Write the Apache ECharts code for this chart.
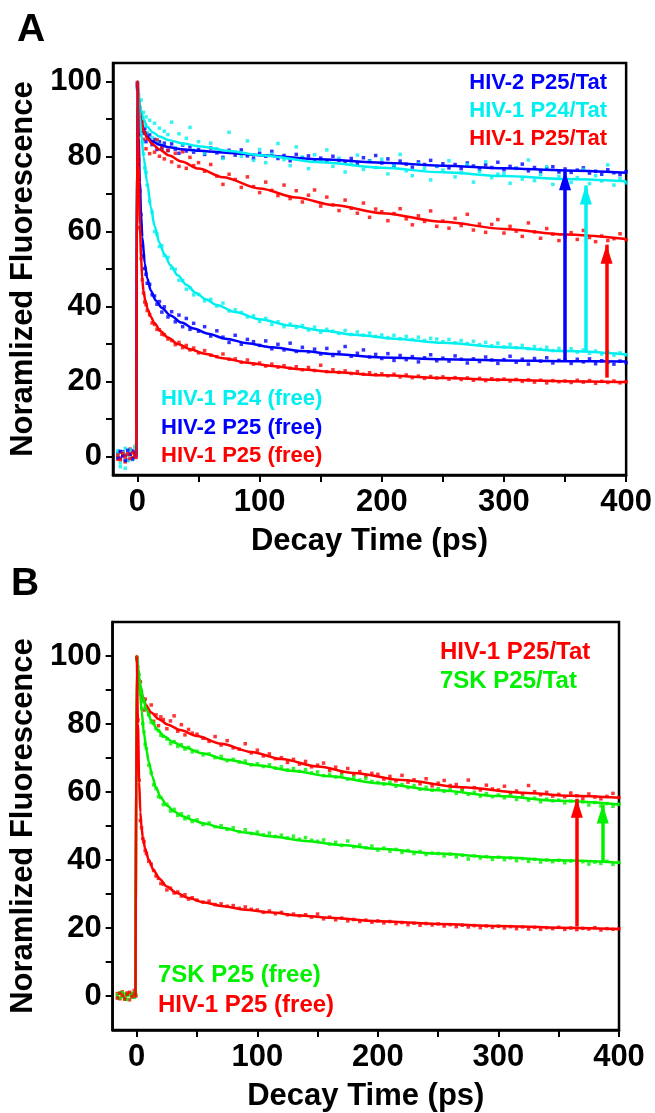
<!DOCTYPE html>
<html>
<head>
<meta charset="utf-8">
<script src="https://cdn.jsdelivr.net/npm/echarts@6/dist/echarts.min.js"></script>
<style>
html, body { margin: 0; padding: 0; background: #fff; }
#chart { width: 655px; height: 1113px; }
</style>
</head>
<body>
<div id="chart"></div>
<script>
// shared time grid (ps) of the decay traces
const timePs = [
    -16, -14, -12, -10, -8, -6, -4, -2, -1,
    0, 1, 2, 3, 4, 5, 6, 7, 8,
    10, 12, 14, 16, 18, 20, 22,
    25, 28, 31, 34, 37, 40, 43, 46,
    50, 55, 60, 65, 70, 75, 80, 85, 90, 95,
    100, 105, 110, 115, 120, 125, 130, 135, 140, 145,
    150, 155, 160, 165, 170, 175, 180, 185, 190, 195,
    200, 205, 210, 215, 220, 225, 230, 235, 240, 245,
    250, 255, 260, 265, 270, 275, 280, 285, 290, 295,
    300, 305, 310, 315, 320, 325, 330, 335, 340, 345,
    350, 355, 360, 365, 370, 375, 380, 385, 390, 395, 400
];

// ---- panel A, measured points ----
const hiv2TatA = [
    0.8, -0.5, 1.2, 0.3, -1.0, 0.6, 1.5, -0.2, 0.9,
    99.5, 95.2, 89.1, 91.3, 87.0, 86.2, 87.5, 84.0, 86.1,
    85.8, 83.2, 84.6, 81.9, 84.0, 82.2, 83.6,
    81.6, 83.4, 82.0, 80.9, 83.1, 81.5, 82.6, 81.2,
    81.9, 80.6, 82.3, 81.0, 79.8, 81.7, 80.4, 81.8, 80.2, 79.6,
    80.9, 80.1, 81.4, 79.5, 80.3, 78.9, 80.6, 79.7, 80.2, 79.1,
    79.6, 78.7, 80.1, 79.0, 78.4, 79.5, 78.2, 79.7, 78.9, 80.3,
    78.3, 79.4, 77.6, 78.8, 78.0, 77.2, 78.6, 77.9, 79.0, 77.4,
    78.1, 77.0, 77.9, 76.8, 78.3, 77.5, 76.6, 77.8, 77.1, 78.5,
    76.5, 77.4, 76.9, 78.0, 76.2, 77.1, 76.0, 76.8, 77.3, 75.9,
    76.7, 75.8, 76.4, 77.0, 75.6, 76.1, 75.3, 76.5, 75.7, 75.2, 76.0
];
const hiv1P24TatA = [
    1.5, -2.8, 0.4, 2.1, -1.2, 1.8, -0.6, 2.6, 3.0,
    98.0, 96.5, 93.0, 95.1, 89.5, 91.8, 88.2, 90.6, 86.4,
    89.7, 85.1, 88.9, 84.2, 87.6, 83.0, 86.8,
    85.9, 89.2, 82.4, 86.1, 83.3, 84.9, 87.8, 81.7,
    84.0, 80.9, 83.6, 82.1, 79.5, 86.5, 81.2, 80.1, 84.2, 79.0,
    81.9, 78.4, 80.7, 83.5, 79.2, 77.6, 82.6, 79.9, 76.8, 80.5,
    78.9, 81.8, 77.4, 79.6, 75.9, 78.2, 80.4, 76.6, 78.8, 77.1,
    79.3, 75.4, 77.8, 80.6, 76.2, 74.9, 78.1, 76.9, 73.8, 77.5,
    76.4, 78.9, 74.6, 75.7, 77.9, 73.2, 76.1, 78.6, 74.4, 75.3,
    75.5, 72.9, 76.8, 74.0, 79.1, 73.6, 75.2, 77.3, 72.6, 74.7,
    75.9, 73.1, 74.4, 76.6, 72.8, 74.9, 73.5, 77.8, 72.4, 74.1, 73.0
];
const hiv1TatA = [
    -0.8, 1.1, 0.2, -1.5, 0.7, 1.9, -0.4, 0.6, 1.3,
    99.0, 94.5, 90.2, 87.1, 89.4, 84.6, 86.3, 82.1, 84.9,
    80.8, 83.9, 81.2, 84.5, 80.1, 82.6, 79.4,
    81.7, 78.6, 80.9, 77.4, 81.3, 76.9, 79.8, 77.6,
    78.4, 76.1, 77.9, 74.8, 72.6, 75.3, 73.9, 71.8, 74.6, 72.0,
    70.4, 73.2, 71.0, 69.6, 72.4, 68.8, 70.9, 67.9, 69.7, 71.1,
    66.8, 69.2, 67.1, 65.6, 68.4, 66.2, 64.9, 67.6, 63.8, 66.0,
    65.3, 62.9, 64.8, 66.1, 63.4, 61.8, 64.2, 62.7, 65.5, 61.4,
    62.8, 60.9, 63.5, 61.6, 64.6, 60.4, 62.0, 59.8, 61.9, 63.2,
    59.6, 61.4, 60.1, 58.7, 62.3, 59.9, 58.2, 60.8, 59.3, 57.6,
    58.6, 59.7, 57.9, 60.3, 58.4, 57.3, 58.8, 57.6, 58.1, 59.4, 57.8
];
const hiv1P24FreeA = [
    0.6, -1.8, 1.0, -3.2, 0.3, 1.7, -0.9, 2.2, 1.4,
    99.2, 94.1, 90.6, 85.8, 83.9, 80.7, 77.0, 75.8, 72.4,
    68.1, 65.2, 60.0, 59.3, 56.0, 56.2, 53.6,
    53.1, 50.2, 49.9, 47.0, 46.9, 44.6, 45.0, 43.1,
    43.2, 41.5, 41.9, 40.1, 40.9, 38.8, 39.1, 38.4, 37.2, 37.5,
    36.0, 36.8, 35.2, 35.9, 34.6, 35.3, 34.4, 34.9, 33.7, 34.5,
    33.1, 33.9, 33.4, 32.8, 33.6, 32.5, 33.2, 32.3, 32.9, 32.0,
    32.4, 31.7, 32.3, 31.4, 32.0, 31.2, 31.8, 30.9, 31.5, 31.3,
    30.6, 31.2, 30.3, 30.9, 30.1, 30.7, 29.8, 30.4, 29.5, 30.2,
    29.2, 29.9, 29.0, 29.6, 28.7, 29.3, 28.6, 29.1, 28.2, 28.8,
    28.0, 28.7, 27.8, 28.4, 27.5, 28.1, 27.3, 27.9, 27.0, 27.6, 27.1
];
const hiv2FreeA = [
    -0.4, 1.3, 0.1, -1.1, 1.6, 0.5, -0.7, 1.0, 0.2,
    98.6, 86.0, 70.8, 64.5, 56.2, 53.5, 50.1, 48.6, 46.2,
    45.9, 43.1, 42.8, 40.6, 41.3, 38.5, 39.9,
    37.2, 38.6, 35.9, 37.7, 34.6, 36.8, 33.9, 35.5,
    33.4, 34.6, 32.1, 33.5, 31.8, 30.4, 32.3, 29.9, 31.2, 30.6,
    29.6, 30.8, 28.7, 29.9, 28.4, 30.2, 28.0, 29.1, 27.9, 28.6,
    27.3, 28.8, 26.9, 27.8, 29.3, 26.7, 27.5, 28.4, 26.5, 27.2,
    26.1, 27.4, 25.6, 26.9, 25.8, 26.6, 25.2, 26.3, 27.1, 25.5,
    26.2, 25.4, 26.8, 25.9, 24.9, 26.0, 25.3, 26.5, 25.7, 24.8,
    25.8, 26.7, 25.1, 25.9, 24.6, 26.1, 25.4, 26.3, 24.9, 25.6,
    25.7, 24.8, 25.9, 25.2, 26.0, 24.7, 25.5, 25.1, 24.6, 25.4, 25.0
];
const hiv1FreeA = [
    0.3, -0.9, 0.8, -0.2, 0.5, -0.6, 0.9, 0.1, -0.3,
    99.8, 79.2, 61.0, 52.8, 47.1, 43.6, 41.2, 40.5, 38.9,
    37.8, 35.6, 35.2, 33.9, 33.8, 32.6, 32.4,
    31.3, 30.9, 29.8, 30.4, 29.0, 29.6, 28.4, 28.9,
    27.6, 28.2, 27.0, 26.6, 27.3, 25.9, 26.0, 25.1, 25.7, 24.6,
    24.9, 24.1, 24.6, 23.8, 24.2, 23.5, 23.9, 23.1, 23.7, 22.9,
    24.3, 22.6, 23.1, 22.4, 22.8, 22.1, 22.6, 21.9, 22.3, 21.8,
    22.0, 21.5, 21.9, 21.2, 21.7, 21.0, 21.4, 20.8, 21.3, 20.9,
    21.2, 20.6, 21.0, 20.5, 20.9, 20.3, 20.8, 20.2, 20.7, 20.4,
    20.6, 20.1, 20.5, 20.0, 20.4, 19.8, 20.3, 19.6, 20.2, 19.9,
    20.1, 19.7, 20.3, 19.8, 20.2, 19.5, 20.0, 19.7, 20.1, 19.6, 19.9
];

// ---- panel B, measured points ----
const hiv1TatB = [
    0.7, -0.8, 1.2, -0.3, 0.9, -1.1, 0.4, 1.6, 0.2,
    99.6, 95.3, 90.8, 92.4, 88.0, 86.9, 84.1, 87.3, 85.2,
    83.0, 85.6, 80.8, 82.7, 79.5, 82.1, 81.3,
    78.6, 80.9, 82.4, 77.9, 79.8, 76.8, 78.4, 77.3,
    77.0, 75.8, 74.9, 76.3, 73.8, 75.1, 73.0, 72.6, 74.2, 71.5,
    72.3, 70.6, 71.2, 69.8, 70.1, 68.7, 69.6, 68.2, 69.0, 67.4,
    67.9, 68.5, 66.4, 67.3, 65.8, 66.9, 65.2, 66.0, 64.7, 65.5,
    65.2, 63.8, 64.6, 63.3, 64.9, 62.9, 63.6, 62.4, 63.9, 61.8,
    62.6, 63.4, 61.9, 62.2, 60.8, 63.5, 61.3, 60.6, 62.0, 60.9,
    60.6, 61.7, 59.8, 60.3, 59.4, 61.9, 60.1, 59.2, 59.9, 58.8,
    59.3, 58.6, 59.7, 58.9, 58.1, 59.4, 58.5, 58.0, 58.7, 59.6, 58.4
];
const sk7TatB = [
    -0.5, 0.9, -0.2, 0.6, -1.0, 0.3, 0.8, -0.4, 0.5,
    99.3, 96.8, 94.5, 90.2, 89.4, 87.3, 86.6, 84.8, 84.3,
    82.7, 80.5, 80.2, 78.6, 78.0, 76.7, 76.4,
    75.6, 74.2, 74.8, 73.4, 73.9, 72.6, 73.1, 71.8,
    72.0, 70.9, 71.2, 70.1, 70.5, 69.2, 69.6, 68.8, 69.1, 68.0,
    68.3, 67.5, 68.0, 67.0, 67.4, 66.5, 66.9, 66.1, 66.6, 65.6,
    65.9, 64.8, 65.2, 64.4, 64.9, 63.8, 64.3, 63.5, 64.0, 63.1,
    62.8, 62.3, 62.9, 61.7, 62.2, 61.3, 61.9, 60.8, 61.4, 60.5,
    61.0, 60.2, 60.7, 59.6, 60.4, 59.3, 59.9, 58.8, 59.5, 58.6,
    59.1, 58.3, 58.9, 57.8, 58.5, 57.6, 58.2, 57.1, 57.9, 57.4,
    57.6, 56.8, 57.3, 56.5, 57.1, 56.2, 56.9, 55.9, 56.6, 55.8, 56.4
];
const sk7FreeB = [
    0.4, -0.6, 1.0, -0.9, 0.2, 0.7, -0.3, 0.9, 0.1,
    98.9, 95.5, 91.6, 88.7, 84.5, 80.1, 77.6, 74.0, 72.8,
    67.9, 65.6, 62.1, 61.0, 58.6, 58.4, 56.3,
    56.4, 54.4, 54.9, 53.1, 53.6, 52.1, 52.8, 51.3,
    51.8, 50.4, 50.9, 49.8, 50.1, 49.0, 49.5, 48.3, 48.9, 47.8,
    48.2, 47.4, 47.9, 46.9, 47.3, 46.5, 47.0, 46.1, 46.6, 45.8,
    45.5, 45.9, 44.7, 45.2, 44.3, 45.6, 43.9, 44.4, 43.6, 44.1,
    42.9, 43.5, 42.6, 43.1, 42.2, 42.8, 41.9, 42.5, 41.6, 42.0,
    41.9, 41.2, 41.7, 40.9, 41.4, 40.3, 41.2, 40.6, 41.0, 40.2,
    40.8, 40.1, 40.6, 39.8, 40.4, 39.6, 40.2, 39.4, 40.0, 39.5,
    39.9, 39.2, 39.7, 39.0, 39.5, 38.8, 39.4, 39.0, 39.6, 38.7, 39.3
];
const hiv1FreeB = [
    -0.6, 0.8, 0.2, -0.9, 0.5, 1.1, -0.2, 0.6, 0.0,
    99.5, 81.2, 63.4, 51.6, 49.5, 46.3, 45.4, 42.8, 41.9,
    39.6, 38.8, 36.9, 35.3, 34.6, 33.1, 32.9,
    31.2, 31.7, 30.3, 30.6, 29.4, 29.8, 28.5, 28.9,
    28.2, 27.6, 27.9, 26.9, 27.1, 26.4, 26.6, 25.8, 26.2, 25.5,
    25.3, 24.6, 25.0, 24.2, 24.6, 23.9, 24.1, 23.6, 23.9, 23.2,
    24.1, 22.7, 23.2, 22.4, 22.9, 22.1, 22.5, 21.9, 22.3, 21.7,
    22.1, 21.5, 21.9, 21.3, 21.6, 21.0, 21.4, 20.8, 21.3, 20.9,
    21.2, 20.6, 21.0, 20.4, 20.8, 20.3, 20.7, 20.1, 20.6, 20.2,
    20.5, 20.0, 20.4, 19.8, 20.3, 19.7, 20.2, 19.6, 20.1, 19.8,
    20.2, 19.6, 20.0, 19.5, 19.9, 19.7, 20.1, 19.4, 19.8, 19.6, 19.8
];

// ---- fitted curves, [time ps, value] ----
const hiv2TatFitA = [[-1, 0], [0, 100], [1, 95.5], [2, 92], [3, 89.8], [5, 87.2], [8, 85.3], [12, 84.1], [18, 83.2], [26, 82.5], [36, 82], [50, 81.6], [75, 81], [100, 80.4], [150, 79.3], [200, 78.4], [250, 77.6], [300, 76.9], [350, 76.3], [400, 75.7]];
const hiv1P24TatFitA = [[-1, 0], [0, 100], [1, 96.5], [2, 94], [3, 92.3], [5, 90], [8, 88], [12, 86.6], [18, 85.4], [26, 84.4], [36, 83.6], [50, 82.8], [75, 81.5], [100, 80.4], [150, 78.5], [200, 77], [250, 75.8], [300, 74.8], [350, 74], [400, 73.4]];
const hiv1TatFitA = [[-1, 0], [0, 100], [1, 95], [2, 92], [3, 89.8], [5, 87], [8, 85], [12, 83.4], [18, 81.9], [26, 80.3], [36, 78.7], [50, 76.8], [70, 74.5], [100, 71.5], [130, 69.1], [160, 67.1], [200, 64.9], [250, 62.6], [300, 60.7], [350, 59.2], [400, 58]];
const hiv1P24FreeFitA = [[-1, 0], [0, 100], [1, 95], [2, 90.5], [3, 86.5], [5, 80], [8, 73], [11, 66.5], [14, 61.5], [18, 57], [22, 54], [27, 51], [33, 48.3], [40, 45.8], [48, 43.6], [56, 41.9], [65, 40.4], [80, 38.5], [100, 36.6], [125, 34.9], [150, 33.6], [180, 32.4], [210, 31.4], [250, 30.3], [300, 29.1], [350, 28.1], [400, 27.2]];
const hiv2FreeFitA = [[-1, 0], [0, 100], [1, 85], [2, 73], [3, 64.5], [4, 58.5], [6, 51.5], [8, 47.5], [11, 44.2], [15, 41.6], [20, 39.6], [27, 37.6], [36, 35.7], [46, 34.1], [58, 32.7], [72, 31.4], [90, 30.2], [110, 29.1], [135, 28.1], [160, 27.3], [200, 26.4], [250, 25.9], [300, 25.6], [350, 25.4], [400, 25.3]];
const hiv1FreeFitA = [[-1, 0], [0, 100], [1, 78], [2, 62], [3, 53], [4, 47], [5, 44], [6.5, 41.5], [8.5, 39.2], [11, 37.2], [14, 35.5], [19, 33.4], [25, 31.7], [33, 30], [43, 28.6], [55, 27.4], [70, 26.2], [90, 25], [110, 24.1], [135, 23.2], [160, 22.5], [200, 21.6], [250, 20.9], [300, 20.4], [350, 20.05], [400, 19.8]];

const hiv1TatFitB = [[-1, 0], [0, 100], [1, 95.5], [2, 93], [3, 91], [5, 88], [8, 85.3], [12, 83.4], [18, 81.5], [26, 79.8], [36, 78.2], [50, 76.5], [70, 74.2], [95, 71.8], [120, 69.7], [150, 67.5], [180, 65.6], [220, 63.5], [270, 61.4], [320, 59.8], [360, 58.9], [400, 58.3]];
const sk7TatFitB = [[-1, 0], [0, 100], [1, 96.5], [2, 93.8], [3, 91.5], [5, 88], [8, 84.3], [12, 81.1], [17, 78.4], [23, 76.3], [30, 74.7], [40, 73.1], [54, 71.4], [75, 69.5], [100, 67.9], [130, 66.2], [160, 64.6], [200, 62.6], [250, 60.5], [300, 58.8], [350, 57.4], [400, 56.3]];
const sk7FreeFitB = [[-1, 0], [0, 100], [1, 96], [2, 92], [3, 88], [4, 84], [6, 77.3], [8, 72.5], [10, 68.8], [13, 64.5], [16, 61.3], [20, 58.3], [25, 56], [31, 54.3], [38, 52.9], [46, 51.8], [56, 50.7], [70, 49.5], [90, 48.1], [110, 47], [140, 45.6], [170, 44.4], [200, 43.3], [250, 41.9], [300, 40.8], [350, 39.9], [400, 39.2]];
const hiv1FreeFitB = [[-1, 0], [0, 100], [1, 80], [2, 63], [3, 54], [4, 49.5], [5, 46.8], [7, 43.3], [10, 40], [14, 37], [19, 34.4], [25, 32.2], [33, 30.3], [43, 28.8], [55, 27.6], [70, 26.5], [90, 25.4], [110, 24.6], [135, 23.7], [160, 23], [200, 22], [250, 21.2], [300, 20.6], [350, 20.1], [400, 19.7]];

// arrows: time, start value, tip value
const arrowTimeA = [350, 367, 384];
const arrowFromA = [25.7, 28.1, 21];
const arrowToA = [76.1, 72.3, 56.5];
const arrowTimeB = [365, 386.5];
const arrowFromB = [20.4, 39.5];
const arrowToB = [58, 56.3];

// ticks
const xMajor = [0, 100, 200, 300, 400];
const xTicks = [0, 50, 100, 150, 200, 250, 300, 350, 400];
const yMajor = [0, 20, 40, 60, 80, 100];
const yTicks = [0, 10, 20, 30, 40, 50, 60, 70, 80, 90, 100];

const BLUE = '#0000ff';
const CYAN = '#00f0f0';
const RED = '#ff0000';
const GREEN = '#00f000';
const FONT = '"Liberation Sans", Arial, Helvetica, sans-serif';

function pairs(t, v) {
    return v.map(function (y, i) { return [t[i], y]; });
}

function dots(name, values, color, idx) {
    return {
        name: name, type: 'scatter', xAxisIndex: idx, yAxisIndex: idx,
        symbol: 'rect', symbolSize: 3.5,
        itemStyle: {color: color},
        data: pairs(timePs, values),
        silent: true, z: 2
    };
}

function fit(name, points, color, idx) {
    return {
        name: name, type: 'line', xAxisIndex: idx, yAxisIndex: idx,
        showSymbol: false, smooth: 0.3, smoothMonotone: 'x',
        lineStyle: {color: color, width: 2.5},
        data: points, silent: true, z: 3
    };
}

// vertical arrows drawn as markLines, head tip sitting on the end value
function arrows(times, from, to, colors, idx) {
    return times.map(function (t, i) {
        return {
            type: 'line', xAxisIndex: idx, yAxisIndex: idx, data: [], silent: true, z: 4,
            markLine: {
                silent: true, animation: false,
                symbol: ['none', 'triangle'],
                label: {show: false},
                lineStyle: {color: colors[i], width: 3.5, type: 'solid'},
                data: [[
                    {coord: [t, from[i]]},
                    {coord: [t, to[i]], symbol: 'triangle', symbolSize: [12, 19], symbolOffset: [0, 9.5]}
                ]]
            }
        };
    });
}

function xAxis(idx) {
    return {
        gridIndex: idx, type: 'value', min: -20, max: 400,
        axisLine: {onZero: false, lineStyle: {color: '#000', width: 2.5}},
        axisTick: {customValues: xTicks, length: 7, lineStyle: {color: '#000', width: 2}},
        axisLabel: {customValues: xMajor, margin: 12, color: '#000', fontSize: 31, fontWeight: 'bold', fontFamily: FONT},
        splitLine: {show: false},
        name: 'Decay Time (ps)', nameLocation: 'middle', nameGap: 51,
        nameTextStyle: {color: '#000', fontSize: 31, fontWeight: 'bold', fontFamily: FONT}
    };
}

function yAxis(idx, min, max) {
    return {
        gridIndex: idx, type: 'value', min: min, max: max,
        axisLine: {onZero: false, lineStyle: {color: '#000', width: 2.5}},
        axisTick: {customValues: yTicks, length: 7, lineStyle: {color: '#000', width: 2}},
        axisLabel: {customValues: yMajor, margin: 11, color: '#000', fontSize: 31, fontWeight: 'bold', fontFamily: FONT},
        splitLine: {show: false},
        name: 'Noramlized Fluorescence', nameLocation: 'middle', nameGap: 72,
        nameTextStyle: {color: '#000', fontSize: 31, fontWeight: 'bold', fontFamily: FONT}
    };
}

function label(text, x, y, color, size, align) {
    return {
        type: 'text', x: x, y: y, silent: true,
        style: {text: text, fill: color, align: align || 'left', verticalAlign: 'middle',
            font: 'bold ' + size + 'px ' + FONT}
    };
}

const myChart = echarts.init(document.getElementById('chart'), null, {renderer: 'canvas'});

const option = {
    animation: false,
    backgroundColor: '#fff',
    grid: [
        {left: 113, top: 63, width: 514, height: 412, show: true, borderColor: '#000', borderWidth: 2.5},
        {left: 110, top: 622, width: 509, height: 410, show: true, borderColor: '#000', borderWidth: 2.5}
    ],
    xAxis: [xAxis(0), xAxis(1)],
    yAxis: [yAxis(0, -5, 105), yAxis(1, -10, 110)],
    series: [
        dots('HIV-2 P25/Tat', hiv2TatA, BLUE, 0),
        dots('HIV-1 P24/Tat', hiv1P24TatA, CYAN, 0),
        dots('HIV-1 P25/Tat', hiv1TatA, RED, 0),
        dots('HIV-1 P24 (free)', hiv1P24FreeA, CYAN, 0),
        dots('HIV-2 P25 (free)', hiv2FreeA, BLUE, 0),
        dots('HIV-1 P25 (free)', hiv1FreeA, RED, 0),
        fit('HIV-2 P25/Tat fit', hiv2TatFitA, BLUE, 0),
        fit('HIV-1 P24/Tat fit', hiv1P24TatFitA, CYAN, 0),
        fit('HIV-1 P25/Tat fit', hiv1TatFitA, RED, 0),
        fit('HIV-1 P24 (free) fit', hiv1P24FreeFitA, CYAN, 0),
        fit('HIV-2 P25 (free) fit', hiv2FreeFitA, BLUE, 0),
        fit('HIV-1 P25 (free) fit', hiv1FreeFitA, RED, 0),

        dots('HIV-1 P25/Tat B', hiv1TatB, RED, 1),
        dots('7SK P25/Tat', sk7TatB, GREEN, 1),
        dots('7SK P25 (free)', sk7FreeB, GREEN, 1),
        dots('HIV-1 P25 (free) B', hiv1FreeB, RED, 1),
        fit('HIV-1 P25/Tat B fit', hiv1TatFitB, RED, 1),
        fit('7SK P25/Tat fit', sk7TatFitB, GREEN, 1),
        fit('7SK P25 (free) fit', sk7FreeFitB, GREEN, 1),
        fit('HIV-1 P25 (free) B fit', hiv1FreeFitB, RED, 1)
    ].concat(
        arrows(arrowTimeA, arrowFromA, arrowToA, [BLUE, CYAN, RED], 0),
        arrows(arrowTimeB, arrowFromB, arrowToB, [RED, GREEN], 1)
    ),
    graphic: [
        label('A', 17, 30, '#000', 39),
        label('B', 11, 584, '#000', 39),
        label('HIV-2 P25/Tat', 607, 83, BLUE, 22, 'right'),
        label('HIV-1 P24/Tat', 607, 111, CYAN, 22, 'right'),
        label('HIV-1 P25/Tat', 607, 139, RED, 22, 'right'),
        label('HIV-1 P24 (free)', 161, 399, CYAN, 22),
        label('HIV-2 P25 (free)', 161, 428, BLUE, 22),
        label('HIV-1 P25 (free)', 161, 456, RED, 22),
        label('HIV-1 P25/Tat', 440, 652, RED, 24),
        label('7SK P25/Tat', 440, 681, GREEN, 24),
        label('7SK P25 (free)', 158, 975, GREEN, 24),
        label('HIV-1 P25 (free)', 158, 1005, RED, 24)
    ]
};

myChart.setOption(option);
</script>
</body>
</html>
